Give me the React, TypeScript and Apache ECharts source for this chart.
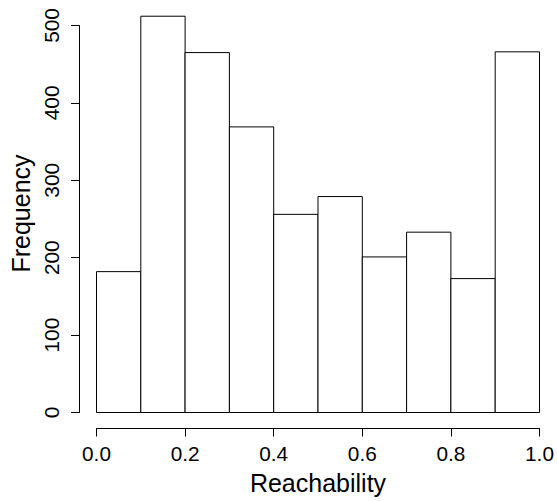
import { useEffect, useRef } from "react";
import * as echarts from "echarts";

const breaks = [0, 0.1, 0.2, 0.3, 0.4, 0.5, 0.6, 0.7, 0.8, 0.9, 1.0];
const counts = [182, 512, 465, 369, 256, 279, 201, 233, 173, 466];
const xTicks = [0, 0.2, 0.4, 0.6, 0.8, 1.0];
const yTicks = [0, 100, 200, 300, 400, 500];
const xLabel = "Reachability";
const yLabel = "Frequency";

const FONT = "'Liberation Sans', Arial, Helvetica, sans-serif";

export default function App() {
  const ref = useRef<HTMLDivElement>(null);
  useEffect(() => {
    const chart = echarts.init(ref.current!, null, { renderer: "svg" });
    const data = counts.map((c, i) => [breaks[i], breaks[i + 1], c]);
    const lineStyle = { color: "#000", width: 1 };
    chart.setOption({
      animation: false,
      backgroundColor: "#fff",
      grid: { left: 96.5, right: 17.5, top: 25.5, bottom: 88.5, containLabel: false },
      xAxis: {
        type: "value",
        min: xTicks[0],
        max: xTicks[xTicks.length - 1],
        interval: xTicks[1] - xTicks[0],
        offset: 16,
        axisLine: { show: true, onZero: false, lineStyle },
        axisTick: { show: true, length: 8, lineStyle },
        axisLabel: {
          margin: 14,
          fontSize: 20.8,
          color: "#000",
          fontFamily: FONT,
          formatter: (v: number) => v.toFixed(1),
        },
        splitLine: { show: false },
        name: xLabel,
        nameLocation: "middle",
        nameGap: 42,
        nameTextStyle: { fontSize: 25, color: "#000", fontFamily: FONT },
      },
      yAxis: {
        type: "value",
        min: yTicks[0],
        max: yTicks[yTicks.length - 1],
        interval: yTicks[1] - yTicks[0],
        offset: 17.5,
        axisLine: { show: true, onZero: false, lineStyle },
        axisTick: { show: true, length: 8, lineStyle },
        axisLabel: {
          margin: 17,
          rotate: 90,
          fontSize: 20.8,
          color: "#000",
          fontFamily: FONT,
        },
        splitLine: { show: false },
        name: yLabel,
        nameLocation: "middle",
        nameGap: 42.5,
        nameTextStyle: { fontSize: 25, color: "#000", fontFamily: FONT, padding: [0, 0, 0, 11] },
      },
      series: [
        {
          type: "custom",
          clip: false,
          encode: { x: [0, 1], y: 2 },
          data,
          renderItem: (_params: any, api: any) => {
            const p0 = api.coord([api.value(0), 0]);
            const p1 = api.coord([api.value(1), api.value(2)]);
            return {
              type: "rect",
              shape: { x: p0[0], y: p1[1], width: p1[0] - p0[0], height: p0[1] - p1[1] },
              style: { fill: "#fff", stroke: "#000", lineWidth: 1 },
            };
          },
        },
      ],
    });
    return () => chart.dispose();
  }, []);
  return (
    <div
      ref={ref}
      style={{ position: "fixed", left: 0, top: 0, width: 557, height: 501, background: "#fff" }}
    />
  );
}
